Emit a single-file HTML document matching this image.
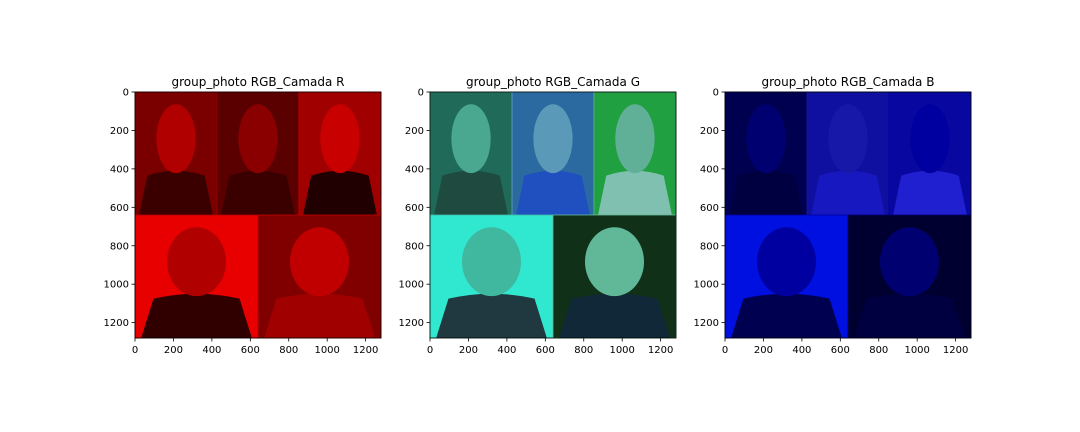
<!DOCTYPE html>
<html><head><meta charset="utf-8"><style>
html,body{margin:0;padding:0;background:#fff;}
svg{display:block;font-family:"DejaVu Sans","Liberation Sans",sans-serif;}
</style></head><body>
<svg id="fig" width="1080" height="432" viewBox="0 0 1080 432" xmlns="http://www.w3.org/2000/svg"></svg>
<script>
const titles = ["group_photo RGB_Camada R","group_photo RGB_Camada G","group_photo RGB_Camada B"];
const axLeft = [135,430,725];
const xTicks = [0,200,400,600,800,1000,1200];
const yTicks = [0,200,400,600,800,1000,1200];
const imgSize = 1280;
// panels: [x0,y0,x1,y1] in image pixel coords
const panels = [[0,0,427,640],[427,0,853,640],[853,0,1280,640],[0,640,640,1280],[640,640,1280,1280]];
// per-channel colours: [background, face, body]
const chanColors = [
  [["#7a0000","#b00000","#3a0000"],["#5a0000","#8a0000","#3a0000"],["#a00000","#c80000","#200000"],["#e80000","#b00000","#300000"],["#800000","#c00000","#a00000"]],
  [["#1f6a58","#4aa890","#1e4a40"],["#2a6aa0","#5a9ab8","#2050c0"],["#20a040","#60b098","#80c0b0"],["#30e8d0","#40b8a0","#203840"],["#103018","#60b898","#102838"]],
  [["#000050","#000070","#000040"],["#1010a0","#1818a8","#1818c0"],["#0808a0","#0000a0","#2020d0"],["#0010e0","#0000a0","#000050"],["#000030","#000070","#000040"]]
];
const S = 246, T = 92;
const svg = document.getElementById('fig');
const NS = "http://www.w3.org/2000/svg";
function mk(tag, attrs){const e=document.createElementNS(NS,tag);for(const k in attrs)e.setAttribute(k,attrs[k]);return e;}
titles.forEach((t,i)=>{
  const L = axLeft[i];
  const sx = v => L + v*S/imgSize;
  const sy = v => T + v*S/imgSize;
  const g = mk('g',{});
  
  
  svg.appendChild(g);
  panels.forEach((p,j)=>{
    const c = chanColors[i][j];
    const x0=sx(p[0]),y0=sy(p[1]),w=sx(p[2])-x0,h=sy(p[3])-y0;
    const r = mk('rect',{x:x0,y:y0,width:w,height:h,fill:c[0],stroke:c[1],'stroke-width':0.8});
    
    
    g.appendChild(r);
    const body = mk('path',{d:`M${x0+w*0.05},${y0+h} L${x0+w*0.15},${y0+h*0.68} Q${x0+w/2},${y0+h*0.6} ${x0+w*0.85},${y0+h*0.68} L${x0+w*0.95},${y0+h} Z`,fill:c[2]});
    
    
    g.appendChild(body);
    const face = mk('ellipse',{cx:x0+w*0.5,cy:y0+h*0.38,rx:w*0.24,ry:h*0.28,fill:c[1]});
    
    
    g.appendChild(face);
  });
  const frame = mk('rect',{x:L,y:T,width:S,height:S,fill:'none',stroke:'#000','stroke-width':0.8});
  
  
  g.appendChild(frame);
  const tt = mk('text',{x:L+S/2,y:T-6,'text-anchor':'middle','font-size':12,fill:'#000'});
  tt.textContent=t;
  
  
  g.appendChild(tt);
  xTicks.forEach(v=>{
    const x=sx(v);
    g.appendChild(mk('line',{x1:x,x2:x,y1:T+S,y2:T+S+3.5,stroke:'#000','stroke-width':0.8}));
    const l=mk('text',{x:x,y:T+S+15,'text-anchor':'middle','font-size':10,fill:'#000'});
    l.textContent=v;
    
    
    g.appendChild(l);
  });
  yTicks.forEach(v=>{
    const y=sy(v);
    g.appendChild(mk('line',{x1:L-3.5,x2:L,y1:y,y2:y,stroke:'#000','stroke-width':0.8}));
    const l=mk('text',{x:L-6,y:y+3.5,'text-anchor':'end','font-size':10,fill:'#000'});
    l.textContent=v;
    
    
    g.appendChild(l);
  });
});
</script>
</body></html>
